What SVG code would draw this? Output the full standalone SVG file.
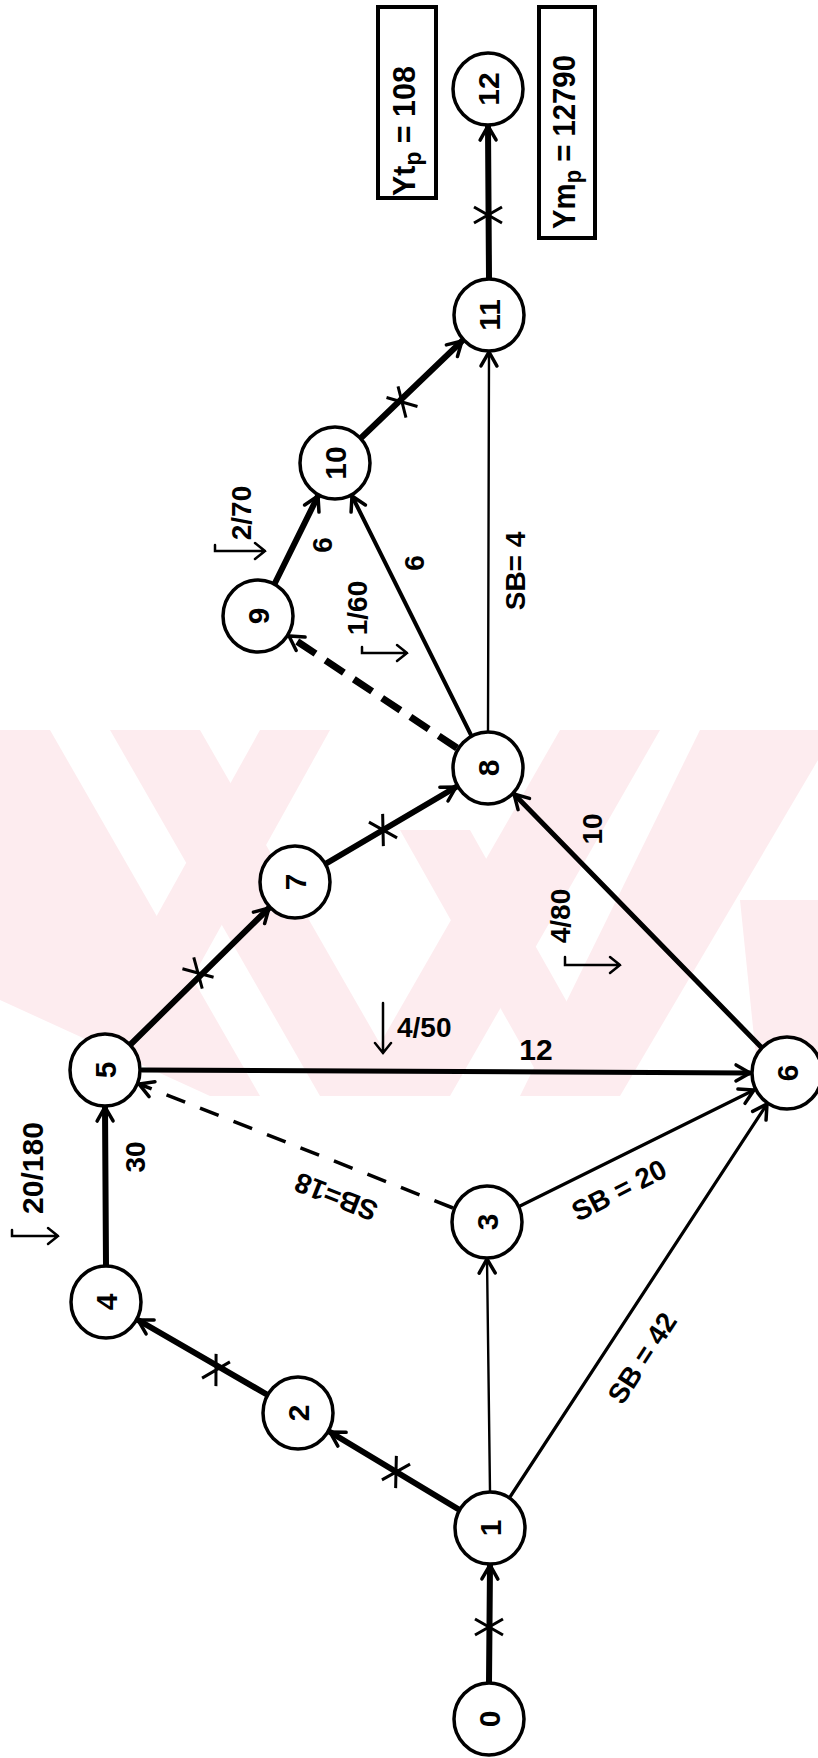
<svg xmlns="http://www.w3.org/2000/svg" width="818" height="1758" viewBox="0 0 818 1758">
<style>
.n{fill:#fff;stroke:#000;stroke-width:3.5}
.nl{font-family:'Liberation Sans',Arial,sans-serif;font-size:30px;font-weight:bold;text-anchor:middle;fill:#000}
.lb{font-family:'Liberation Sans',Arial,sans-serif;font-size:28px;font-weight:bold;text-anchor:middle;fill:#000}
.bx{fill:#fff;stroke:#000;stroke-width:4}
.e{fill:none;stroke:#000;stroke-linecap:round}
.k{stroke-width:6}
.m5{stroke-width:5}
.m4{stroke-width:4}
.m3{stroke-width:3.2}
.t{stroke-width:2.4}
.d{stroke-width:3.5;stroke-dasharray:20 16;stroke-linecap:butt}
.dk{stroke-width:7;stroke-dasharray:22 12;stroke-linecap:butt}
.wm{fill:#fdecef}
</style>
<defs>
<marker id="ah" markerUnits="userSpaceOnUse" markerWidth="26" markerHeight="26" refX="22" refY="13" orient="auto">
<path d="M8,5 L22,13 L8,21" fill="none" stroke="#000" stroke-width="3.5" stroke-linecap="round" stroke-linejoin="miter"/>
</marker>
<g id="xm"><path d="M-8,-14 L8,14 M-8,14 L8,-14" fill="none" stroke="#000" stroke-width="3"/></g>
<clipPath id="wc"><rect x="0" y="730" width="818" height="366"/></clipPath>
</defs>
<rect width="818" height="1758" fill="#fff"/>
<g id="watermark" clip-path="url(#wc)">
<polygon class="wm" points="0,730 50,730 260,1096 210,1096 0,1000"/>
<polygon class="wm" points="110,730 200,730 410,1096 320,1096"/>
<polygon class="wm" points="260,730 330,730 180,1000 110,1000"/>
<polygon class="wm" points="560,730 660,730 450,1096 350,1096"/>
<polygon class="wm" points="700,730 818,730 818,760 620,1096 520,1096"/>
<polygon class="wm" points="400,830 470,830 620,1096 550,1096"/>
<polygon class="wm" points="740,900 818,900 818,1096 760,1096"/>
</g>
<g id="connectors">
<line class="e k" x1="489" y1="1682" x2="490" y2="1565" marker-end="url(#ah)"/>
<line class="e k" x1="458" y1="1509" x2="330" y2="1432" marker-end="url(#ah)"/>
<line class="e k" x1="266" y1="1394" x2="138" y2="1320" marker-end="url(#ah)"/>
<line class="e k" x1="106" y1="1265" x2="105" y2="1107" marker-end="url(#ah)"/>
<line class="e t" x1="490" y1="1491" x2="487" y2="1259" marker-end="url(#ah)"/>
<line class="e m3" x1="510" y1="1497" x2="767" y2="1104" marker-end="url(#ah)"/>
<line class="e m3" x1="520" y1="1206" x2="754" y2="1090" marker-end="url(#ah)"/>
<line class="e d" x1="453" y1="1208" x2="139" y2="1084" marker-end="url(#ah)"/>
<line class="e m5" x1="142" y1="1070" x2="750" y2="1073" marker-end="url(#ah)"/>
<line class="e k" x1="131" y1="1044" x2="269" y2="908" marker-end="url(#ah)"/>
<line class="e k" x1="327" y1="863" x2="456" y2="787" marker-end="url(#ah)"/>
<line class="e m5" x1="761" y1="1047" x2="514" y2="794" marker-end="url(#ah)"/>
<line class="e dk" x1="457" y1="748" x2="289" y2="636" marker-end="url(#ah)"/>
<line class="e k" x1="275" y1="583" x2="318" y2="496" marker-end="url(#ah)"/>
<line class="e m4" x1="471" y1="735" x2="352" y2="496" marker-end="url(#ah)"/>
<line class="e t" x1="488" y1="731" x2="489" y2="352" marker-end="url(#ah)"/>
<line class="e k" x1="362" y1="437" x2="462" y2="341" marker-end="url(#ah)"/>
<line class="e k" x1="489" y1="278" x2="488" y2="126" marker-end="url(#ah)"/>
<use href="#xm" transform="translate(489,1627) rotate(-90)"/>
<use href="#xm" transform="translate(396,1472) rotate(-149)"/>
<use href="#xm" transform="translate(216,1370) rotate(-150)"/>
<use href="#xm" transform="translate(198,973) rotate(-45)"/>
<use href="#xm" transform="translate(383,830) rotate(-31)"/>
<use href="#xm" transform="translate(402,402) rotate(-44)"/>
<use href="#xm" transform="translate(488,215) rotate(-90)"/>
</g>
<g id="edge-labels">
<text class="lb" transform="translate(135,1157) rotate(-90)" dy="0.35em" font-size="30">30</text>
<text class="lb" transform="translate(32,1168) rotate(-90)" dy="0.35em" style="font-size:30px">20/180</text>
<path class="e" stroke-width="2.5" d="M12,1230 L12,1236 L58,1236 M48,1228 L58,1236 L48,1244"/>
<text class="lb" x="397" y="1037" style="text-anchor:start">4/50</text>
<path class="e" stroke-width="2.5" d="M383,1003 L383,1053 M375,1043 L383,1053 L391,1043"/>
<text class="lb" x="536" y="1060" style="font-size:30px">12</text>
<text class="lb" transform="translate(592,829) rotate(-90)" dy="0.35em">10</text>
<text class="lb" transform="translate(560,916) rotate(-90)" dy="0.35em">4/80</text>
<path class="e" stroke-width="2.5" d="M565,957 L565,965 L620,965 M610,957 L620,965 L610,973"/>
<text class="lb" transform="translate(619,1190) rotate(-27)" dy="0.35em">SB = 20</text>
<text class="lb" transform="translate(642,1358) rotate(-57)" dy="0.35em">SB = 42</text>
<text class="lb" transform="translate(336,1197) rotate(201.7)" dy="0.35em">SB=18</text>
<text class="lb" transform="translate(322,545) rotate(-90)" dy="0.35em">6</text>
<text class="lb" transform="translate(414,563) rotate(-90)" dy="0.35em">6</text>
<text class="lb" transform="translate(357,608) rotate(-90)" dy="0.35em">1/60</text>
<path class="e" stroke-width="2.5" d="M362,647 L362,653 L407,653 M397,645 L407,653 L397,661"/>
<text class="lb" transform="translate(241,513) rotate(-90)" dy="0.35em">2/70</text>
<path class="e" stroke-width="2.5" d="M215,545 L215,551 L265,551 M255,543 L265,551 L255,559"/>
<text class="lb" transform="translate(515,571) rotate(-90)" dy="0.35em">SB= 4</text>
</g>
<g id="box-yt">
<rect class="bx" x="378" y="7" width="58" height="191"/>
<text class="nl" transform="translate(415,131) rotate(-90)" style="font-size:31px" textLength="130" lengthAdjust="spacingAndGlyphs">Yt<tspan dy="6" style="font-size:23px">p</tspan><tspan dy="-6"> = 108</tspan></text>
</g>
<g id="box-ym">
<rect class="bx" x="539" y="7" width="56" height="231"/>
<text class="nl" transform="translate(575,142) rotate(-90)" style="font-size:31px" textLength="174" lengthAdjust="spacingAndGlyphs">Ym<tspan dy="6" style="font-size:23px">p</tspan><tspan dy="-6"> = 12790</tspan></text>
</g>
<g id="node-0"><ellipse class="n" cx="489" cy="1719" rx="35" ry="36"/><text class="nl" transform="translate(489,1719) rotate(-90)" dy="0.35em">0</text></g>
<g id="node-1"><ellipse class="n" cx="490" cy="1528" rx="35" ry="36"/><text class="nl" transform="translate(490,1528) rotate(-90)" dy="0.35em">1</text></g>
<g id="node-2"><ellipse class="n" cx="298" cy="1413" rx="35" ry="36"/><text class="nl" transform="translate(298,1413) rotate(-90)" dy="0.35em">2</text></g>
<g id="node-3"><ellipse class="n" cx="487" cy="1222" rx="35" ry="36"/><text class="nl" transform="translate(487,1222) rotate(-90)" dy="0.35em">3</text></g>
<g id="node-4"><ellipse class="n" cx="106" cy="1302" rx="35" ry="36"/><text class="nl" transform="translate(106,1302) rotate(-90)" dy="0.35em">4</text></g>
<g id="node-5"><ellipse class="n" cx="105" cy="1070" rx="35" ry="36"/><text class="nl" transform="translate(105,1070) rotate(-90)" dy="0.35em">5</text></g>
<g id="node-6"><ellipse class="n" cx="787" cy="1073" rx="35" ry="36"/><text class="nl" transform="translate(787,1073) rotate(-90)" dy="0.35em">6</text></g>
<g id="node-7"><ellipse class="n" cx="295" cy="882" rx="35" ry="36"/><text class="nl" transform="translate(295,882) rotate(-90)" dy="0.35em">7</text></g>
<g id="node-8"><ellipse class="n" cx="488" cy="768" rx="35" ry="36"/><text class="nl" transform="translate(488,768) rotate(-90)" dy="0.35em">8</text></g>
<g id="node-9"><ellipse class="n" cx="258" cy="616" rx="35" ry="36"/><text class="nl" transform="translate(258,616) rotate(-90)" dy="0.35em">9</text></g>
<g id="node-10"><ellipse class="n" cx="335" cy="463" rx="35" ry="36"/><text class="nl" transform="translate(335,463) rotate(-90)" dy="0.35em">10</text></g>
<g id="node-11"><ellipse class="n" cx="489" cy="315" rx="35" ry="36"/><text class="nl" transform="translate(489,315) rotate(-90)" dy="0.35em">11</text></g>
<g id="node-12"><ellipse class="n" cx="488" cy="89" rx="35" ry="36"/><text class="nl" transform="translate(488,89) rotate(-90)" dy="0.35em">12</text></g>
</svg>
